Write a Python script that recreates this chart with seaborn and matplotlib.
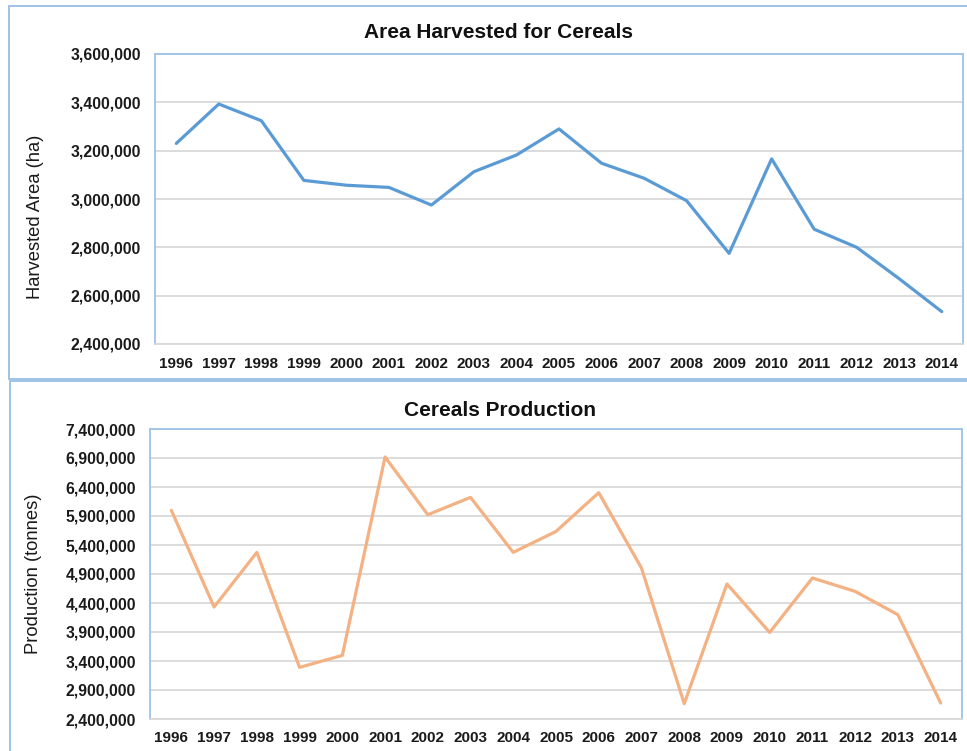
import pandas as pd
import matplotlib
matplotlib.use("Agg")
import matplotlib.pyplot as plt
from matplotlib.lines import Line2D
from matplotlib.ticker import FuncFormatter
import seaborn as sns

# ---- data ----
years = [str(y) for y in range(1996, 2015)]
area_ha = [3230000, 3393000, 3324000, 3077000, 3057000, 3048000, 2975000,
           3113000, 3182000, 3290000, 3148000, 3086000, 2993000, 2775000,
           3166000, 2875000, 2800000, 2670000, 2534000]
production_t = [5997000, 4331000, 5273000, 3290000, 3497000, 6917000, 5922000,
                6221000, 5273000, 5634000, 6302000, 5003000, 2664000, 4728000,
                3893000, 4831000, 4600000, 4198000, 2676000]
area_ticks = [2400000, 2600000, 2800000, 3000000, 3200000, 3400000, 3600000]
prod_ticks = [2400000, 2900000, 3400000, 3900000, 4400000, 4900000,
              5400000, 5900000, 6400000, 6900000, 7400000]

sns.set_theme(style="white")
plt.rcParams["font.family"] = ["Liberation Sans", "DejaVu Sans"]

BLUE = "#5B9BD5"
ORANGE = "#F4B183"
FRAME = "#9DC3E6"
GRID = "#D9D9D9"

df = pd.DataFrame({"year": years, "area": area_ha, "prod": production_t})

W, H = 967, 751
fig = plt.figure(figsize=(W / 100, H / 100), dpi=100)
fig.patch.set_facecolor("white")


def px_axes(left, top, right, bottom):
    return fig.add_axes([left / W, 1 - bottom / H, (right - left) / W, (bottom - top) / H])


def style_axes(ax, ticks, ylabel):
    ax.set_xlim(-0.5, len(years) - 0.5)
    ax.set_ylim(ticks[0], ticks[-1])
    ax.set_yticks(ticks)
    ax.yaxis.set_major_formatter(FuncFormatter(lambda v, p: f"{v:,.0f}"))
    ax.grid(axis="y", color=GRID, linewidth=1.3)
    ax.grid(axis="x", visible=False)
    ax.set_axisbelow(True)
    for side in ["left", "top", "right"]:
        ax.spines[side].set_color(FRAME)
        ax.spines[side].set_linewidth(1.3)
    ax.spines["bottom"].set_color(GRID)
    ax.spines["bottom"].set_linewidth(1.3)
    ax.tick_params(axis="both", length=0, labelsize=11, colors="#1a1a1a")
    ax.tick_params(axis="y", labelsize=11.3, pad=10)
    ax.tick_params(axis="x", pad=9)
    for lab in ax.get_xticklabels() + ax.get_yticklabels():
        lab.set_fontweight("bold")
    ax.set_xlabel("")
    ax.set_ylabel(ylabel, fontsize=13.2, color="#1a1a1a")


# top panel: harvested area
ax1 = px_axes(155, 54, 963, 344)
sns.lineplot(data=df, x="year", y="area", ax=ax1, color=BLUE, linewidth=2.3, sort=False)
style_axes(ax1, area_ticks, "Harvested Area (ha)")
ax1.yaxis.set_label_coords(-0.137, 0.44)
fig.text(498 / W, 1 - 33 / H, "Area Harvested for Cereals", ha="center", va="center",
         fontsize=15, fontweight="bold", color="#111111")

# bottom panel: production
ax2 = px_axes(150, 429, 962, 719)
sns.lineplot(data=df, x="year", y="prod", ax=ax2, color=ORANGE, linewidth=2.3, sort=False)
style_axes(ax2, prod_ticks, "Production (tonnes)")
ax2.yaxis.set_label_coords(-0.133, 0.5)
fig.text(500 / W, 1 - 410 / H, "Cereals Production", ha="center", va="center",
         fontsize=15, fontweight="bold", color="#111111")

# outer panel frames (left, top, bottom edges)
def panel_frame(left, top, bottom):
    x0, x1 = left / W, 1.0
    y0, y1 = 1 - bottom / H, 1 - top / H
    for xs, ys in [([x0, x1], [y1, y1]), ([x0, x0], [y0, y1]), ([x0, x1], [y0, y0])]:
        fig.add_artist(Line2D(xs, ys, color=FRAME, linewidth=1.4, transform=fig.transFigure))

panel_frame(8.5, 5.5, 378.5)
panel_frame(9.5, 381, 760)

fig.savefig("out.png", dpi=100)
